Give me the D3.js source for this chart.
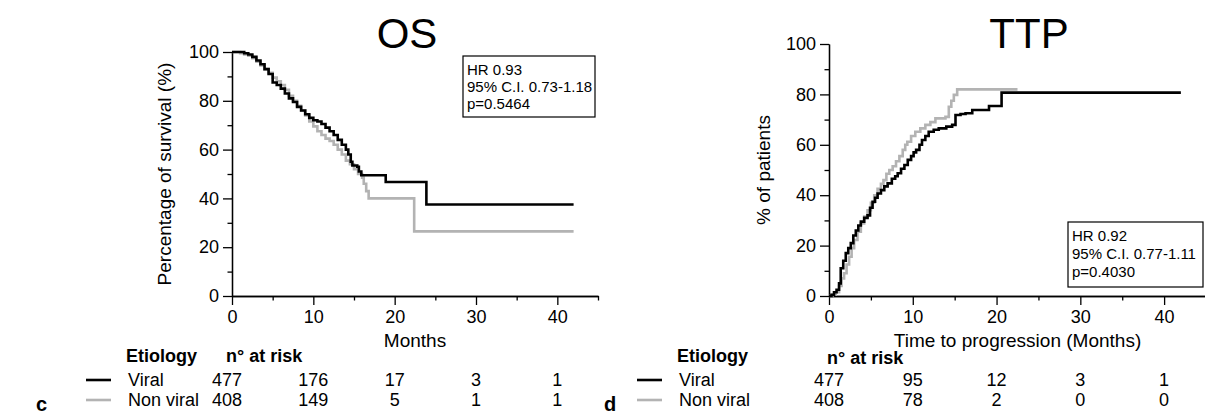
<!DOCTYPE html>
<html>
<head>
<meta charset="utf-8">
<script src="https://cdn.jsdelivr.net/npm/d3@7"></script>
<style>
  body { margin: 0; background: #fff; }
  svg { display: block; font-family: "Liberation Sans", Arial, sans-serif; }
</style>
</head>
<body>
<div id="chart"></div>
<script>
// ---- data ----
const monthTicks = [0, 10, 20, 30, 40];
const groups = ['Viral', 'Non viral'];

// Kaplan-Meier OS, [month, % surviving]
const osViral = [
  [0, 100], [0.8, 100], [1.5, 99.5], [2, 99], [2.5, 98], [3, 96.5], [3.5, 95], [4, 93],
  [4.5, 91], [5, 87.5], [5.5, 86.5], [6, 85], [6.5, 83], [7, 81], [7.5, 79.5], [8, 77.5],
  [8.5, 76], [9, 74.5], [9.5, 73], [10, 72], [10.5, 71.5], [11, 70.5], [11.5, 69], [12, 67.5],
  [12.5, 66], [13, 64], [13.5, 62], [14, 60], [14.3, 58], [14.6, 55], [14.8, 53.5], [15.4, 53],
  [15.6, 51], [15.9, 49.5], [18.9, 46.7], [23.9, 37.5], [42, 37.5]
];
const osNonViral = [
  [0, 100], [1, 99.5], [1.5, 99], [2, 98.5], [2.5, 97.5], [3, 96], [3.5, 94.5], [4, 93],
  [4.5, 91.5], [5, 89.5], [5.5, 88], [6, 86.5], [6.5, 84.5], [7, 82], [7.5, 80], [8, 78],
  [8.5, 76], [9, 74], [9.5, 71.5], [10, 69.5], [10.5, 67.5], [11, 66], [11.5, 64.5], [12, 63.5],
  [12.5, 62], [13, 60], [13.5, 58], [14, 55.5], [14.5, 54], [15, 52], [15.5, 50], [16, 48.5],
  [16.2, 46], [16.5, 43], [16.8, 40], [22.4, 26.5], [42, 26.5]
];

// cumulative progression TTP, [month, % of patients]
const ttpViral = [
  [0, 0], [0.3, 0.5], [0.6, 1.5], [0.9, 2.5], [1.2, 5], [1.4, 11], [1.7, 14], [2, 17],
  [2.3, 19], [2.6, 21], [2.9, 24], [3.2, 26], [3.5, 28], [3.8, 29.5], [4.2, 31], [4.6, 32],
  [4.9, 35], [5.2, 37.4], [5.5, 39], [5.8, 40.7], [6.2, 42], [6.6, 43.5], [7, 44.7], [7.5, 46.5],
  [7.9, 47.5], [8.2, 48.7], [8.6, 50.5], [9, 52], [9.4, 54], [9.8, 55.5], [10.1, 57], [10.4, 58],
  [10.8, 60], [11.1, 61.9], [11.5, 63.5], [11.9, 65.2], [12.5, 66], [13.1, 66.5], [14, 67.2],
  [14.7, 67.9], [15.1, 71.8], [15.7, 72.2], [16.3, 72.5], [17.1, 73.8], [19.1, 75.4],
  [20.6, 80.7], [42, 80.7]
];
const ttpNonViral = [
  [0, 0], [0.4, 0.5], [0.8, 1.5], [1.2, 4], [1.5, 7], [1.8, 9], [2.1, 12.5], [2.4, 15.6],
  [2.7, 19], [3, 22.2], [3.4, 25.5], [3.8, 28.8], [4.2, 31.5], [4.6, 34], [5, 37], [5.4, 40],
  [5.8, 42.5], [6.2, 44.5], [6.5, 46], [6.85, 48.5], [7.2, 50], [7.6, 51.5], [8, 53.5],
  [8.4, 55.5], [8.8, 58], [9.1, 60], [9.35, 61.2], [9.8, 63.5], [10.3, 65.2], [10.9, 66.5],
  [11.5, 67.9], [12.1, 69], [12.7, 70.5], [13.9, 71.1], [14.3, 75.1], [14.6, 77.5],
  [14.9, 79.8], [15.3, 82], [22.5, 82]
];

// numbers at risk at 0, 10, 20, 30, 40 months
const osRiskViral = [477, 176, 17, 3, 1];
const osRiskNonViral = [408, 149, 5, 1, 1];
const ttpRiskViral = [477, 95, 12, 3, 1];
const ttpRiskNonViral = [408, 78, 2, 0, 0];

const osStats = ['HR 0.93', '95% C.I. 0.73-1.18', 'p=0.5464'];
const ttpStats = ['HR 0.92', '95% C.I. 0.77-1.11', 'p=0.4030'];

const colors = { 'Viral': '#000', 'Non viral': '#b3b3b3' };

// ---- drawing ----
const W = 1205, H = 416;
const svg = d3.select('#chart').append('svg').attr('width', W).attr('height', H);

function drawPanel(p) {
  const x = d3.scaleLinear().domain([0, 45]).range([p.x0, p.x1]);
  const y = d3.scaleLinear().domain([0, 100]).range([296, p.yTop]);
  const g = svg.append('g');

  // y axis: major + minor ticks
  const yMaj = d3.axisLeft(y).tickValues([0, 20, 40, 60, 80, 100]).tickSize(9).tickSizeOuter(0).tickPadding(4);
  const yMin = d3.axisLeft(y).tickValues([10, 30, 50, 70, 90]).tickSize(4.5).tickSizeOuter(0).tickFormat('');
  const gy = g.append('g').attr('transform', `translate(${p.x0},0)`).call(yMaj);
  g.append('g').attr('transform', `translate(${p.x0},0)`).call(yMin);

  const xMaj = d3.axisBottom(x).tickValues(monthTicks).tickSize(9).tickSizeOuter(0).tickPadding(5);
  const xMin = d3.axisBottom(x).tickValues([5, 15, 25, 35, 45]).tickSize(4.5).tickSizeOuter(0).tickFormat('');
  g.append('g').attr('transform', 'translate(0,296)').call(xMaj);
  g.append('g').attr('transform', 'translate(0,296)').call(xMin);

  g.selectAll('.domain, .tick line').attr('stroke', '#000').attr('stroke-width', 1.3);
  g.selectAll('.tick text').attr('fill', '#000').style('font-size', '18px')
    .style('font-family', '"Liberation Sans", Arial, sans-serif');

  // curves
  const line = d3.line().x(d => x(d[0])).y(d => y(d[1])).curve(d3.curveStepAfter);
  [[p.nonViral, 'Non viral'], [p.viral, 'Viral']].forEach(([pts, k]) => {
    g.append('path').datum(pts).attr('d', line).attr('fill', 'none')
      .attr('stroke', colors[k]).attr('stroke-width', 2.6).attr('stroke-linejoin', 'miter');
  });

  // titles
  g.append('text').attr('x', p.titleX).attr('y', 48).attr('text-anchor', 'middle')
    .style('font-size', '42px').text(p.title);
  g.append('text').attr('transform', `translate(${p.yLabelX},${(296 + p.yTop) / 2}) rotate(-90)`)
    .attr('text-anchor', 'middle').attr('dy', '0.35em').style('font-size', '19px').text(p.yLabel);
  g.append('text').attr('x', (p.x0 + p.x1) / 2).attr('y', 347).attr('text-anchor', 'middle')
    .style('font-size', '19px').text(p.xLabel);

  // HR box
  const b = p.box;
  g.append('rect').attr('x', b.x).attr('y', b.y).attr('width', b.w).attr('height', b.h)
    .attr('fill', '#fff').attr('stroke', '#000').attr('stroke-width', 1.2);
  g.append('g').selectAll('text').data(p.stats).join('text')
    .attr('x', b.x + 4).attr('y', (d, i) => b.y + 19 + i * b.lh)
    .style('font-size', '15px').text(d => d);

  // number at risk table
  g.append('text').attr('x', p.legX + 40).attr('y', 362).style('font-size', '18px')
    .style('font-weight', 'bold').text('Etiology');
  g.append('text').attr('x', p.riskHeadX).attr('y', p.riskHeadY).style('font-size', '18px')
    .style('font-weight', 'bold').text('n° at risk');
  const rows = [[groups[0], p.riskViral, 386], [groups[1], p.riskNonViral, 406]];
  rows.forEach(([k, vals, yy]) => {
    g.append('line').attr('x1', p.legX).attr('x2', p.legX + 25).attr('y1', yy - 6).attr('y2', yy - 6)
      .attr('stroke', colors[k]).attr('stroke-width', 2.6);
    g.append('text').attr('x', p.legX + 42).attr('y', yy).style('font-size', '18px').text(k);
    g.append('g').selectAll('text').data(vals).join('text')
      .attr('x', (d, i) => x(monthTicks[i]) + (i === 0 ? p.firstDx : 0)).attr('y', yy)
      .attr('text-anchor', 'middle').style('font-size', '18px').text(d => d);
  });
  g.append('text').attr('x', p.letterX).attr('y', 411).style('font-size', '20px')
    .style('font-weight', 'bold').text(p.letter);
}

drawPanel({
  title: 'OS', titleX: 407, x0: 232, x1: 598, yTop: 52,
  yLabel: 'Percentage of survival (%)', yLabelX: 164, xLabel: 'Months',
  viral: osViral, nonViral: osNonViral, stats: osStats,
  box: { x: 463, y: 56, w: 132, h: 61, lh: 17 },
  riskViral: osRiskViral, riskNonViral: osRiskNonViral,
  legX: 86, riskHeadX: 226, riskHeadY: 362, firstDx: -5, letter: 'c', letterX: 36
});
drawPanel({
  title: 'TTP', titleX: 1029, x0: 829, x1: 1206, yTop: 44,
  yLabel: '% of patients', yLabelX: 763, xLabel: 'Time to progression (Months)',
  viral: ttpViral, nonViral: ttpNonViral, stats: ttpStats,
  box: { x: 1068, y: 222, w: 135, h: 65, lh: 18 },
  riskViral: ttpRiskViral, riskNonViral: ttpRiskNonViral,
  legX: 637, riskHeadX: 827, riskHeadY: 364, firstDx: 0, letter: 'd', letterX: 604
});
</script>
</body>
</html>
